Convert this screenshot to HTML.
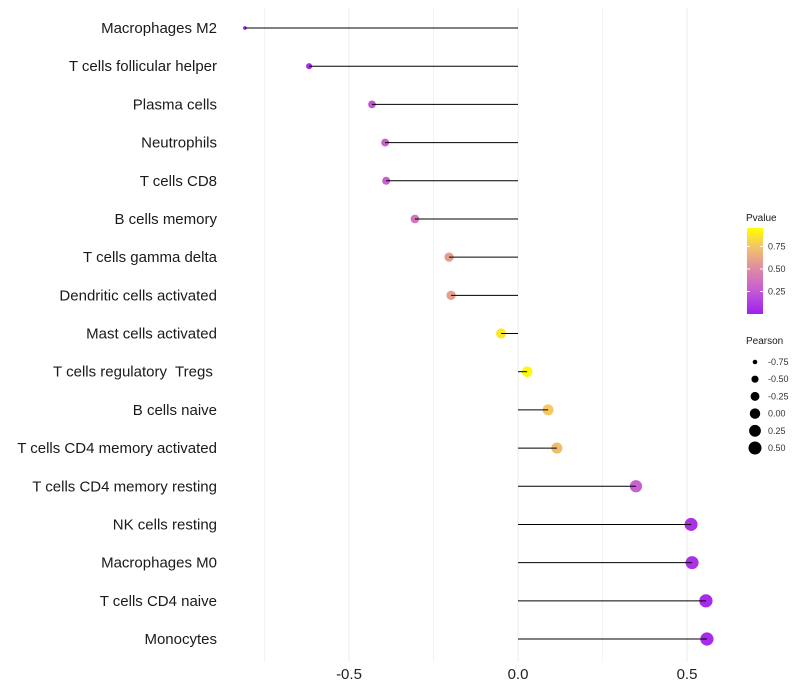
<!DOCTYPE html>
<html><head><meta charset="utf-8"><style>
body{margin:0;background:#fff;}
svg{display:block;font-family:"Liberation Sans",sans-serif;}
</style></head><body>
<svg id="c" width="800" height="700" xmlns="http://www.w3.org/2000/svg">
<defs><linearGradient id="pg" x1="0" y1="1" x2="0" y2="0">
<stop offset="0" stop-color="#a020f0"/><stop offset="0.3" stop-color="#c860d0"/><stop offset="0.55" stop-color="#e090a0"/><stop offset="0.8" stop-color="#f5c860"/><stop offset="1" stop-color="#ffff00"/>
</linearGradient></defs>
<g id="grid"></g><g id="marks"></g><g id="ylab"></g><g id="xlab"></g><g id="legend"></g>
</svg>
<script>
const categories=["Macrophages M2","T cells follicular helper","Plasma cells","Neutrophils","T cells CD8","B cells memory","T cells gamma delta","Dendritic cells activated","Mast cells activated","T cells regulatory  Tregs ","B cells naive","T cells CD4 memory activated","T cells CD4 memory resting","NK cells resting","Macrophages M0","T cells CD4 naive","Monocytes"];
const pearson=[-0.808,-0.618,-0.432,-0.393,-0.39,-0.305,-0.204,-0.198,-0.05,0.027,0.089,0.115,0.349,0.512,0.515,0.556,0.559];
const pvalue=[0.02,0.05,0.25,0.3,0.3,0.4,0.6,0.62,0.92,0.97,0.8,0.75,0.3,0.08,0.08,0.05,0.05];
const xTicks=[-0.5,0,0.5];
const xTickLabels=["-0.5","0.0","0.5"];
const gridVals=[-0.75,-0.5,-0.25,0,0.25,0.5];
const pvTicks=[0.25,0.5,0.75];
const sizeBreaks=[-0.75,-0.5,-0.25,0,0.25,0.5];
const NS="http://www.w3.org/2000/svg";
const x=v=>518+v*338;
const y=i=>28+i*(611/16);
const r=v=>Math.sqrt(Math.max(2.25,5.3+(v+0.75)*29.4));
const stops=[[0,[160,32,240]],[0.3,[200,96,208]],[0.55,[224,144,160]],[0.8,[245,200,96]],[1,[255,255,0]]];
function col(p){p=Math.max(0,Math.min(1,p));for(let k=1;k<stops.length;k++){if(p<=stops[k][0]){const a=stops[k-1],b=stops[k],t=(p-a[0])/(b[0]-a[0]);return "rgb("+a[1].map((c,j)=>Math.round(c+(b[1][j]-c)*t)).join(",")+")";}}return "#ff0";}
function el(tag,at,parent,txt){const e=document.createElementNS(NS,tag);for(const k in at)e.setAttribute(k,at[k]);if(txt!==undefined)e.textContent=txt;document.getElementById(parent).appendChild(e);return e;}
gridVals.forEach((v,i)=>{const g=el("line",{x1:x(v),x2:x(v),y1:8,y2:662,stroke:"#ebebeb","stroke-width":i%2?1:0.6},"grid");

});
categories.forEach((c,i)=>{
const pt=el("circle",{cx:x(pearson[i]),cy:y(i),r:r(pearson[i]),fill:col(pvalue[i])},"marks");


const ln=el("line",{x1:x(0),x2:x(pearson[i]),y1:y(i),y2:y(i),stroke:"#000","stroke-width":1},"marks");


const t=el("text",{x:217,y:y(i)+5,"text-anchor":"end","font-size":15,fill:"#1a1a1a","xml:space":"preserve",style:"white-space:pre"},"ylab",c);


});
xTicks.forEach((v,i)=>{const t=el("text",{x:x(v),y:679,"text-anchor":"middle","font-size":15,fill:"#222"},"xlab",xTickLabels[i]);

});
let t=el("text",{x:746,y:221,"font-size":10,fill:"#1a1a1a"},"legend","Pvalue");


const bar=el("rect",{x:747,y:228,width:16,height:86,fill:"url(#pg)"},"legend");


const cy=p=>314-p*90;
pvTicks.forEach(p=>{
const tk=el("text",{x:768,y:cy(p)+3,"font-size":9,fill:"#333"},"legend",p.toFixed(2));


el("line",{x1:747,x2:750,y1:cy(p),y2:cy(p),stroke:"#fff"},"legend");
el("line",{x1:760,x2:763,y1:cy(p),y2:cy(p),stroke:"#fff"},"legend");});
t=el("text",{x:746,y:344,"font-size":10,fill:"#1a1a1a"},"legend","Pearson");


sizeBreaks.forEach((v,i)=>{const yy=362+i*17.2;
const d=el("circle",{cx:755,cy:yy,r:r(v),fill:"#000"},"legend");


const l=el("text",{x:768,y:yy+3,"font-size":9,fill:"#333"},"legend",v.toFixed(2));

});
</script>
</body></html>
